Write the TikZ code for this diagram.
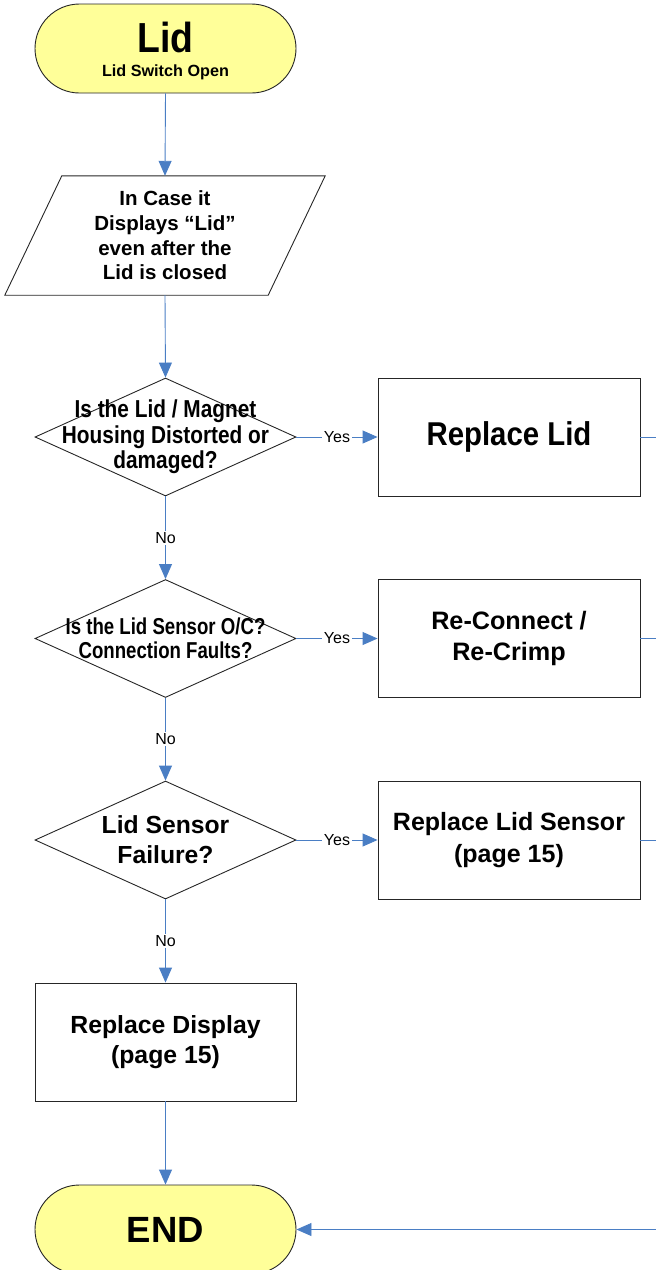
\documentclass[tikz,border=0pt]{standalone}
\usepackage{fontspec}
\setmainfont{Liberation Sans}
% slightly condensed cuts of the same face
\newfontfamily\condA[FakeStretch=0.89]{Liberation Sans}
\newfontfamily\condB[FakeStretch=0.85]{Liberation Sans}
\newfontfamily\condC[FakeStretch=0.81]{Liberation Sans}
\usetikzlibrary{arrows.meta,shapes.geometric}
\definecolor{flowblue}{HTML}{4A7EC4}
\definecolor{termyellow}{HTML}{FFFF99}
\newcommand\fsz[2]{\fontsize{#1}{#2}\selectfont}

\begin{document}
\begin{tikzpicture}[x=1pt,y=-1pt,
  shapeline/.style={draw=black!85, line width=0.9pt},
  terminal/.style={shapeline, fill=termyellow, minimum width=261pt, minimum height=89pt,
                   rounded corners=44.5pt, inner sep=0pt},
  ioframe/.style={minimum width=263pt, minimum height=119pt, inner sep=0pt, align=center},
  decision/.style={shapeline, diamond, minimum width=261pt, minimum height=118pt, inner sep=0pt},
  action/.style={shapeline, rectangle, minimum width=262pt, minimum height=118pt,
                 inner sep=0pt, align=center},
  txt/.style={inner sep=0pt, align=center},
  flow/.style={draw=flowblue, line width=0.9pt, -{Triangle[length=15pt,width=13pt]}},
  link/.style={draw=flowblue, line width=0.9pt},
  branch/.style={fill=white, inner sep=1.5pt, font=\fsz{16}{19}},
]
\useasboundingbox (0,0) rectangle (656,1270);
\clip (0,0) rectangle (656,1270);

% start terminal
\node[terminal] (start) at (165.5,48.5) {};
\node[txt, anchor=base, font=\condA\bfseries\fsz{42}{42}] (startTitle) at (165.5,52) {Lid};
\node[txt, anchor=base, font=\bfseries\fsz{16.2}{19}] (startSub) at (165.5,76) {Lid Switch Open};

% input / condition parallelogram
\node[ioframe, font=\bfseries\fsz{20.5}{24.7}] (inq) at (165,235.5)
  {In Case it\\Displays “Lid”\\even after the\\Lid is closed};
\draw[shapeline] ([xshift=28.5pt]inq.north west) -- ([xshift=28.5pt]inq.north east)
  -- ([xshift=-28.5pt]inq.south east) -- ([xshift=-28.5pt]inq.south west) -- cycle;

% decisions
\node[decision] (d1) at (165.5,437) {};
\node[txt, font=\condB\bfseries\fsz{24.5}{25.5}] (d1t) at (d1)
  {Is the Lid / Magnet\\Housing Distorted or\\damaged?};
\node[decision] (d2) at (165.5,638.5) {};
\node[txt, font=\condC\bfseries\fsz{23}{24}] (d2t) at (d2)
  {Is the Lid Sensor O/C?\\Connection Faults?};
\node[decision] (d3) at (165.5,840) {};
\node[txt, font=\bfseries\fsz{24.7}{30}] (d3t) at (d3) {Lid Sensor\\Failure?};

% actions
\node[action, font=\condA\bfseries\fsz{33}{36}] (b1) at (509,437) {Replace Lid};
\node[action, font=\bfseries\fsz{25.2}{31}] (b2) at (509,638.5) {Re-Connect /\\Re-Crimp};
\node[action, font=\bfseries\fsz{25}{32}] (b3) at (509,840) {Replace Lid Sensor\\(page 15)};
\node[action, minimum width=261pt, font=\bfseries\fsz{24.8}{30}] (b4) at (165.5,1042)
  {Replace Display\\(page 15)};

% end terminal
\node[terminal, font=\bfseries\fsz{36.5}{38}] (end) at (165.5,1229.5) {END};

% connectors
\draw[flow] (start.south) -- (inq.north);
\draw[flow] (inq.south) -- (d1.north);
\draw[flow] (d1.east) -- node[branch] (y1) {Yes} (b1.west);
\draw[flow] (d1.south) -- node[branch] (n1) {No} (d2.north);
\draw[flow] (d2.east) -- node[branch] (y2) {Yes} (b2.west);
\draw[flow] (d2.south) -- node[branch] (n2) {No} (d3.north);
\draw[flow] (d3.east) -- node[branch] (y3) {Yes} (b3.west);
\draw[flow] (d3.south) -- node[branch] (n3) {No} (b4.north);
\draw[flow] (b4.south) -- (end.north);

% return rail on the right
\coordinate (rail) at (700,437);
\draw[flow] (b1.east) -- (b1.east -| rail) |- (end.east);
\draw[link] (b2.east) -- (b2.east -| rail);
\draw[link] (b3.east) -- (b3.east -| rail);
\end{tikzpicture}
\end{document}
